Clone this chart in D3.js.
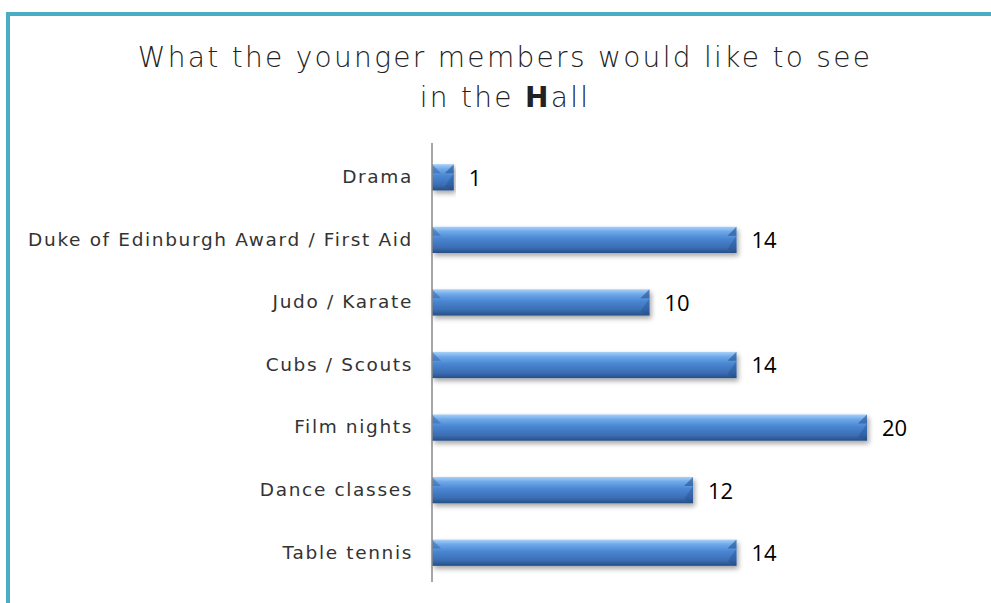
<!DOCTYPE html>
<html><head><meta charset="utf-8">
<script src="https://cdn.jsdelivr.net/npm/d3@7"></script>
<style>body{margin:0;background:#fff;}svg{display:block;}</style>
</head><body>
<script>
const categories = ["Drama","Duke of Edinburgh Award / First Aid","Judo / Karate","Cubs / Scouts","Film nights","Dance classes","Table tennis"];
const values = [1,14,10,14,20,12,14];

const W=991,H=603;
const svg=d3.select("body").append("svg").attr("width",W).attr("height",H);
const defs=svg.append("defs");
const g1=defs.append("linearGradient").attr("id","bg").attr("x1",0).attr("y1",0).attr("x2",0).attr("y2",1);
[[0,"#a9d2f7"],[0.18,"#6fa9ea"],[0.45,"#4a86d2"],[0.8,"#3a6db3"],[1,"#274e84"]].forEach(s=>g1.append("stop").attr("offset",s[0]).attr("stop-color",s[1]));
const f=defs.append("filter").attr("id","sh").attr("x","-10%").attr("y","-30%").attr("width","120%").attr("height","180%");
f.append("feGaussianBlur").attr("in","SourceAlpha").attr("stdDeviation",2.5).attr("result","b");
f.append("feOffset").attr("dx",2).attr("dy",3).attr("result","o");
f.append("feComponentTransfer").append("feFuncA").attr("type","linear").attr("slope",0.35);
const m=f.append("feMerge");m.append("feMergeNode");m.append("feMergeNode").attr("in","SourceGraphic");

// frame
svg.append("rect").attr("x",6).attr("y",12).attr("width",W).attr("height",4).attr("fill","#4bacc6");
svg.append("rect").attr("x",6).attr("y",12).attr("width",4).attr("height",H).attr("fill","#4bacc6");

// title
const t=svg.append("text").attr("text-anchor","middle").attr("font-family","'DejaVu Sans', sans-serif").attr("font-size",28).attr("fill","#222").attr("font-weight",200).style("letter-spacing","2.3px");
t.append("tspan").attr("x",505).attr("y",67).text("What the younger members would like to see");
const l2=t.append("tspan").attr("x",505).attr("y",107);
l2.append("tspan").text("in the ");
l2.append("tspan").attr("font-weight","bold").text("H");
l2.append("tspan").text("all");

const x=d3.scaleLinear().domain([0,20]).range([432,867]);
const y=d3.scaleBand().domain(categories).range([146,584]).paddingInner(0.58).paddingOuter(0.29);

const gb=svg.append("g");
categories.forEach((c,i)=>{
  const x0=x(0),x1=x(values[i]),y0=y(c),h=y.bandwidth();
  const g=gb.append("g");
  g.append("rect").attr("x",x0).attr("y",y0).attr("width",x1-x0).attr("height",h).attr("fill","url(#bg)").attr("filter","url(#sh)");
  const b=Math.min(9,(x1-x0)/2);
  g.append("path").attr("d",`M${x0},${y0}L${x0+b},${y0+b}L${x0},${y0+b}Z`).attr("fill","#2f62a6").attr("opacity",0.5);
  g.append("path").attr("d",`M${x1},${y0}L${x1-b},${y0+b}L${x1},${y0+b}Z`).attr("fill","#1f4a85").attr("opacity",0.55);
  g.append("path").attr("d",`M${x1},${y0+b}L${x1-b},${y0+h-4}L${x1},${y0+h}Z`).attr("fill","#1f4a85").attr("opacity",0.35);
  g.append("text").attr("x",x1+15).attr("y",y0+h/2).attr("dy","0.38em").attr("font-family","'Open Sans', sans-serif").attr("font-size",22).attr("fill","#000").text(values[i]);
});

const ax=svg.append("g").attr("transform","translate(432,0)").call(d3.axisLeft(y).tickSize(0).tickPadding(19));
ax.select(".domain").attr("stroke","#888").attr("stroke-width",1.5).attr("d","M0,143V582");
ax.selectAll("text").attr("font-family","'DejaVu Sans', sans-serif").attr("font-size",18.5).attr("fill","#333").style("letter-spacing","1.65px");
</script>
</body></html>
